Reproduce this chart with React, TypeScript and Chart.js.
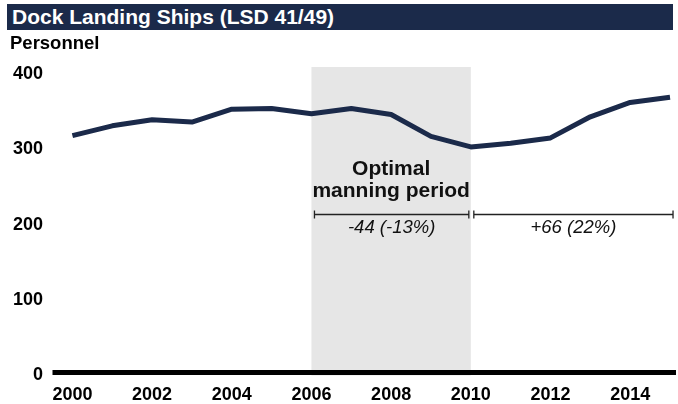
import React, { useEffect, useRef } from "react";
import { Chart, registerables } from "chart.js";

Chart.register(...registerables);

const chartTitle = "Dock Landing Ships (LSD 41/49)";
const yAxisTitle = "Personnel";
const years = [2000, 2001, 2002, 2003, 2004, 2005, 2006, 2007, 2008, 2009, 2010, 2011, 2012, 2013, 2014, 2015];
const personnel = [318, 331, 339, 336, 353, 354, 347, 354, 346, 317, 303, 308, 315, 343, 362, 369];
const xTickLabels = [2000, 2002, 2004, 2006, 2008, 2010, 2012, 2014];
const yTickLabels = [0, 100, 200, 300, 400];
const shadeFrom = 2006;
const shadeTo = 2010;
const shadeLines = ["Optimal", "manning period"];
const periodFrom = [2006, 2010];
const periodTo = [2010, 2015];
const periodLabels = ["-44 (-13%)", "+66 (22%)"];

const FONT = "'Liberation Sans', Arial, Helvetica, sans-serif";
const NAVY = "#1b2a4a";

const overlayPlugin = {
  id: "overlay",
  beforeDatasetsDraw(chart: any) {
    const { ctx, chartArea, scales } = chart;
    const x = scales.x;
    const x1 = x.getPixelForValue(shadeFrom);
    const x2 = x.getPixelForValue(shadeTo);
    ctx.save();
    ctx.fillStyle = "#e6e6e6";
    ctx.fillRect(x1, chartArea.top, x2 - x1, chartArea.bottom - chartArea.top);
    ctx.restore();
  },
  afterDatasetsDraw(chart: any) {
    const { ctx, chartArea, scales } = chart;
    const x = scales.x;
    ctx.save();
    // thick baseline axis
    ctx.fillStyle = "#000";
    ctx.fillRect(chartArea.left, chartArea.bottom - 5.5, chartArea.right - chartArea.left, 5);

    // shaded period label
    const cx = (x.getPixelForValue(shadeFrom) + x.getPixelForValue(shadeTo)) / 2;
    ctx.fillStyle = "#111";
    ctx.font = `bold 21px ${FONT}`;
    ctx.textAlign = "center";
    ctx.textBaseline = "alphabetic";
    ctx.fillText(shadeLines[0], cx, 175);
    ctx.fillText(shadeLines[1], cx, 197);

    // brackets
    const by = 214.5;
    ctx.strokeStyle = "#222";
    ctx.lineWidth = 1.3;
    for (let i = 0; i < periodFrom.length; i++) {
      const a = x.getPixelForValue(periodFrom[i]) + 3;
      const b = x.getPixelForValue(periodTo[i]) + (i === 0 ? -2 : 3);
      ctx.beginPath();
      ctx.moveTo(a, by);
      ctx.lineTo(b, by);
      ctx.moveTo(a, by - 4);
      ctx.lineTo(a, by + 4);
      ctx.moveTo(b, by - 4);
      ctx.lineTo(b, by + 4);
      ctx.stroke();
      ctx.font = `italic 18.5px ${FONT}`;
      ctx.fillStyle = "#111";
      ctx.fillText(periodLabels[i], (a + b) / 2, 233);
    }
    ctx.restore();
  },
};

export default function App() {
  const ref = useRef<HTMLCanvasElement | null>(null);
  useEffect(() => {
    if (!ref.current) return;
    const chart = new Chart(ref.current, {
      type: "line",
      data: {
        datasets: [
          {
            data: years.map((y, i) => ({ x: y, y: personnel[i] })),
            borderColor: NAVY,
            borderWidth: 5,
            pointRadius: 0,
            tension: 0,
            borderJoinStyle: "round",
            borderCapStyle: "butt",
            fill: false,
          },
        ],
      },
      options: {
        animation: false,
        responsive: false,
        devicePixelRatio: 1,
        events: [],
        layout: { padding: { top: 67, left: 0, right: 2, bottom: 0 } },
        plugins: { legend: { display: false }, tooltip: { enabled: false } },
        scales: {
          x: {
            type: "linear",
            min: 1999.5,
            max: 2015.15,
            grid: { display: false, drawTicks: false },
            border: { display: false },
            afterBuildTicks: (s: any) => {
              s.ticks = xTickLabels.map((v) => ({ value: v }));
            },
            afterFit: (s: any) => {
              s.height = 28.5;
            },
            ticks: {
              autoSkip: false,
              maxRotation: 0,
              padding: 9,
              color: "#000",
              font: { family: FONT, size: 18, weight: "bold" },
              callback: (v: any) => String(v),
            },
          },
          y: {
            min: 0,
            max: 409,
            grid: { display: false, drawTicks: false },
            border: { display: false },
            afterBuildTicks: (s: any) => {
              s.ticks = yTickLabels.map((v) => ({ value: v }));
            },
            afterFit: (s: any) => {
              s.width = 52.5;
            },
            ticks: {
              padding: 9.5,
              color: "#000",
              font: { family: FONT, size: 18, weight: "bold" },
              callback: (v: any) => String(v),
            },
          },
        },
      },
      plugins: [overlayPlugin],
    } as any);
    return () => chart.destroy();
  }, []);

  return (
    <div style={{ position: "fixed", left: 0, top: 0, width: 678, height: 404, background: "#fff", overflow: "hidden" }}>
      <canvas ref={ref} width={678} height={404} style={{ position: "absolute", left: 0, top: 0 }} />
      <div
        style={{
          position: "absolute",
          left: 7,
          top: 4,
          width: 666,
          height: 26,
          background: NAVY,
          color: "#fff",
          fontFamily: FONT,
          fontWeight: "bold",
          fontSize: 21,
          lineHeight: "26px",
          paddingLeft: 5,
          boxSizing: "border-box",
          whiteSpace: "nowrap",
        }}
      >
        {chartTitle}
      </div>
      <div
        style={{
          position: "absolute",
          left: 10,
          top: 33,
          fontFamily: FONT,
          fontWeight: "bold",
          fontSize: 18.5,
          lineHeight: "20px",
          color: "#000",
        }}
      >
        {yAxisTitle}
      </div>
    </div>
  );
}
